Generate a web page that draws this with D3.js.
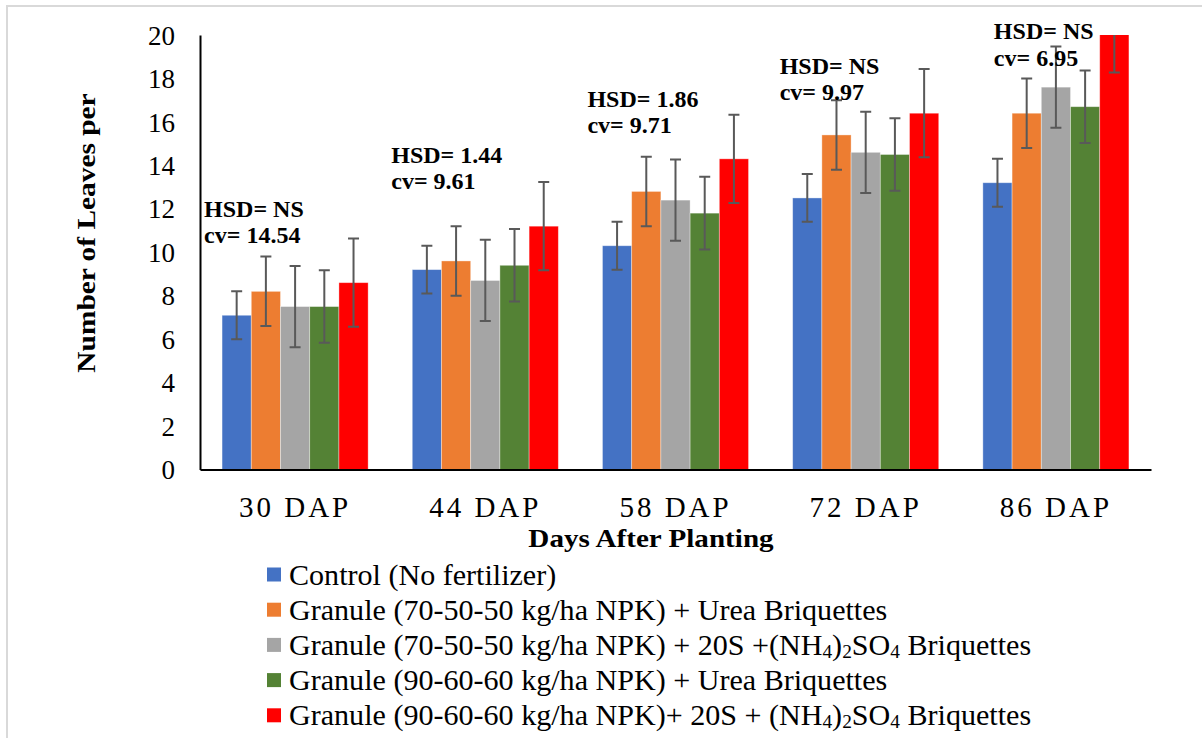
<!DOCTYPE html>
<html>
<head>
<meta charset="utf-8">
<script src="https://cdn.jsdelivr.net/npm/d3@7"></script>
<style>
  html, body { margin: 0; padding: 0; background: #fff; }
  svg { display: block; }
</style>
</head>
<body>
<svg id="chart" width="1202" height="738"></svg>
<script>
// Sampling dates
const days = ["30 DAP", "44 DAP", "58 DAP", "72 DAP", "86 DAP"];

// Treatment names ("_d" marks a subscript digit)
const treatments = [
  "Control (No fertilizer)",
  "Granule (70-50-50 kg/ha NPK) + Urea Briquettes",
  "Granule (70-50-50 kg/ha NPK) + 20S +(NH_4)_2SO_4 Briquettes",
  "Granule (90-60-60 kg/ha NPK) + Urea Briquettes",
  "Granule (90-60-60 kg/ha NPK)+ 20S + (NH_4)_2SO_4 Briquettes"
];

// Mean number of leaves per plant, one array per treatment
const control      = [7.1, 9.2, 10.3, 12.5, 13.2];
const urea705050   = [8.2, 9.6, 12.8, 15.4, 16.4];
const as705050     = [7.5, 8.7, 12.4, 14.6, 17.6];
const urea906060   = [7.5, 9.4, 11.8, 14.5, 16.7];
const as906060     = [8.6, 11.2, 14.3, 16.4, 20.3];

// Error bar half-widths
const controlErr    = [1.1, 1.1, 1.1, 1.1, 1.1];
const urea705050Err = [1.6, 1.6, 1.6, 1.6, 1.6];
const as705050Err   = [1.87, 1.87, 1.87, 1.87, 1.87];
const urea906060Err = [1.67, 1.67, 1.67, 1.67, 1.67];
const as906060Err   = [2.03, 2.03, 2.03, 2.03, 2.03];

// Statistics printed above each date group
const hsd = ["NS", "1.44", "1.86", "NS", "NS"];
const cv  = ["14.54", "9.61", "9.71", "9.97", "6.95"];

// Y-axis ticks
const yTicks = [0, 2, 4, 6, 8, 10, 12, 14, 16, 18, 20];

const seriesValues = [control, urea705050, as705050, urea906060, as906060];
const seriesErrors = [controlErr, urea705050Err, as705050Err, urea906060Err, as906060Err];
const colors = ["#4472C4", "#ED7D31", "#A5A5A5", "#548235", "#FF0000"];

// Where each statistics note sits: value level of its first line, shift from the group start
const noteLevel = [11.64, 14.13, 16.70, 18.21, 19.81];
const noteShift = [-18, -21, -15, -13, 11];

const svg = d3.select("#chart");
const serif = "'Liberation Serif', 'Times New Roman', Times, serif";

// Outer frame
svg.append("rect")
  .attr("x", 7).attr("y", 6).attr("width", 1300).attr("height", 900)
  .attr("fill", "none").attr("stroke", "#d9d9d9").attr("stroke-width", 2);

const plotLeft = 200, plotRight = 1151, plotTop = 35, plotBottom = 469.5;

const x0 = d3.scaleBand().domain(days).range([plotLeft, plotRight])
  .paddingInner(0.232).paddingOuter(0.116);
const x1 = d3.scaleBand().domain(d3.range(treatments.length))
  .range([0, x0.bandwidth()]);
const y = d3.scaleLinear().domain([0, 20]).range([plotBottom, plotTop]);

svg.append("defs").append("clipPath").attr("id", "plotClip")
  .append("rect").attr("x", plotLeft).attr("y", plotTop)
  .attr("width", plotRight - plotLeft).attr("height", plotBottom - plotTop);

const plot = svg.append("g").attr("clip-path", "url(#plotClip)");

// Bars
seriesValues.forEach((vals, s) => {
  plot.append("g").selectAll("rect")
    .data(vals)
    .join("rect")
    .attr("x", (d, i) => x0(days[i]) + x1(s))
    .attr("y", d => y(d))
    .attr("width", x1.bandwidth())
    .attr("height", d => y(0) - y(d))
    .attr("fill", colors[s])
    .attr("stroke", "#ffffff")
    .attr("stroke-opacity", 0.45)
    .attr("stroke-width", 0.8);
});

// Error bars
const capHalf = 5.5;
seriesValues.forEach((vals, s) => {
  const g = plot.append("g").attr("stroke", "#595959").attr("stroke-width", 2).attr("fill", "none");
  vals.forEach((v, i) => {
    const e = seriesErrors[s][i];
    const cx = x0(days[i]) + x1(s) + x1.bandwidth() / 2;
    g.append("line").attr("x1", cx).attr("x2", cx).attr("y1", y(v + e)).attr("y2", y(v - e));
    g.append("line").attr("x1", cx - capHalf).attr("x2", cx + capHalf).attr("y1", y(v + e)).attr("y2", y(v + e));
    g.append("line").attr("x1", cx - capHalf).attr("x2", cx + capHalf).attr("y1", y(v - e)).attr("y2", y(v - e));
  });
});

// Y axis
const yAxis = svg.append("g").attr("transform", `translate(${plotLeft},0)`)
  .call(d3.axisLeft(y).tickValues(yTicks).tickSize(0).tickPadding(25).tickFormat(d3.format("d")));
yAxis.select(".domain").attr("stroke", "#000").attr("stroke-width", 2);
yAxis.selectAll("text")
  .attr("font-family", serif).attr("font-size", 27).attr("fill", "#000")
  .attr("dy", "0.34em");

// X axis
const xAxis = svg.append("g").attr("transform", `translate(0,${plotBottom})`)
  .call(d3.axisBottom(x0).tickSize(0).tickSizeOuter(0));
xAxis.select(".domain").attr("stroke", "#000").attr("stroke-width", 2);
xAxis.selectAll("text")
  .attr("font-family", serif).attr("font-size", 29).attr("fill", "#000")
  .attr("letter-spacing", 3)
  .attr("y", 47).attr("dy", null);

// Axis titles
svg.append("text")
  .attr("transform", "translate(651,547) scale(1.12,1)")
  .attr("text-anchor", "middle")
  .attr("font-family", serif).attr("font-weight", "bold").attr("font-size", 26)
  .text("Days After Planting");

svg.append("text")
  .attr("transform", "translate(95,233) rotate(-90) scale(1.13,1)")
  .attr("text-anchor", "middle")
  .attr("font-family", serif).attr("font-weight", "bold").attr("font-size", 26)
  .text("Number of Leaves per");

// Statistics notes
days.forEach((d, i) => {
  const t = svg.append("text")
    .attr("font-family", serif).attr("font-weight", "bold").attr("font-size", 24).attr("fill", "#000");
  const nx = x0(d) + noteShift[i];
  t.append("tspan").attr("x", nx).attr("y", y(noteLevel[i])).text(`HSD= ${hsd[i]}`);
  t.append("tspan").attr("x", nx).attr("y", y(noteLevel[i]) + 26.5).text(`cv= ${cv[i]}`);
});

// Legend
const legend = svg.append("g").attr("transform", "translate(267,574.5)");
treatments.forEach((name, i) => {
  const row = legend.append("g").attr("transform", `translate(0,${i * 35.2})`);
  row.append("rect").attr("x", 0).attr("y", -7).attr("width", 14).attr("height", 14).attr("fill", colors[i]);
  const t = row.append("text")
    .attr("transform", "translate(22,10) scale(1.02,1)")
    .attr("font-family", serif).attr("font-size", 29.5).attr("fill", "#000");
  name.split(/(_\d)/).filter(p => p.length).forEach(p => {
    if (p.startsWith("_")) {
      t.append("tspan").attr("font-size", 19).attr("baseline-shift", "-3").text(p.slice(1));
    } else {
      t.append("tspan").text(p);
    }
  });
});
</script>
</body>
</html>
